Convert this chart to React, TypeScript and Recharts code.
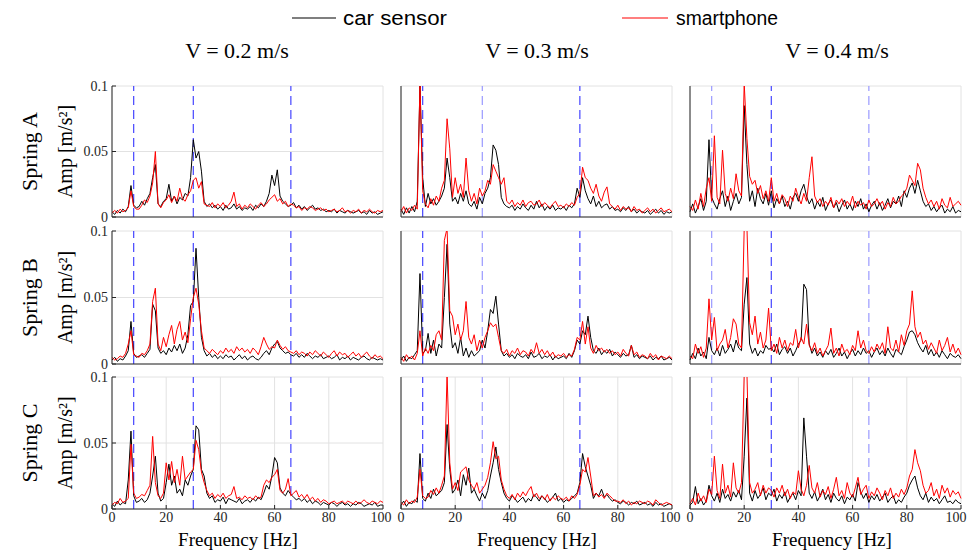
import { CartesianGrid, Line, LineChart, ReferenceLine, XAxis, YAxis } from "recharts";

// frequency bins, 1 Hz steps from 0 to 100 Hz
const FREQ = Array.from({ length: 101 }, (_, i) => i);

// Spring A
const CAR_A_02 = [
  .004, .002, .005, .003, .006, .004, .008, .024, .009, .007,
  .008, .012, .009, .014, .018, .030, .040, .010, .008, .012,
  .014, .025, .012, .016, .010, .015, .013, .018, .016, .030,
  .059, .045, .050, .035, .012, .008, .010, .007, .009, .006,
  .008, .005, .009, .006, .007, .010, .006, .008, .005, .007,
  .006, .008, .005, .009, .007, .010, .008, .012, .018, .032,
  .024, .036, .016, .012, .010, .008, .009, .011, .007, .009,
  .006, .008, .005, .007, .009, .006, .007, .005, .006, .004,
  .005, .004, .006, .003, .005, .004, .003, .005, .004, .003,
  .004, .005, .003, .004, .002, .005, .003, .004, .002, .003,
  .004,
];
const PHONE_A_02 = [
  .003, .005, .003, .006, .004, .005, .007, .020, .008, .006,
  .006, .009, .013, .011, .016, .026, .050, .010, .007, .011,
  .013, .017, .011, .016, .012, .022, .014, .012, .017, .020,
  .028, .030, .022, .027, .010, .009, .008, .011, .007, .010,
  .008, .011, .007, .009, .012, .019, .008, .010, .006, .009,
  .007, .010, .008, .006, .009, .011, .008, .010, .013, .015,
  .017, .012, .014, .010, .012, .008, .010, .009, .007, .008,
  .005, .007, .006, .008, .007, .005, .006, .007, .005, .006,
  .004, .005, .006, .004, .005, .007, .004, .005, .003, .005,
  .004, .006, .003, .005, .004, .006, .004, .003, .005, .004,
  .005,
];
const CAR_A_03 = [
  .006, .002, .007, .003, .008, .004, .012, .100, .030, .008,
  .018, .010, .014, .009, .012, .016, .022, .045, .030, .012,
  .015, .010, .018, .012, .020, .010, .008, .012, .006, .015,
  .010, .018, .022, .030, .055, .051, .040, .015, .010, .008,
  .007, .009, .005, .008, .006, .010, .007, .005, .009, .006,
  .012, .007, .010, .005, .008, .006, .009, .005, .007, .006,
  .008, .005, .009, .007, .010, .022, .015, .030, .020, .014,
  .010, .016, .008, .012, .007, .009, .010, .006, .008, .005,
  .006, .004, .007, .005, .008, .004, .006, .003, .005, .004,
  .003, .005, .002, .004, .006, .003, .005, .002, .004, .003,
  .004,
];
const PHONE_A_03 = [
  .004, .008, .003, .007, .005, .009, .006, .102, .020, .010,
  .007, .014, .009, .016, .012, .022, .028, .075, .052, .015,
  .030, .018, .025, .015, .045, .020, .012, .018, .010, .022,
  .016, .020, .028, .025, .040, .035, .030, .025, .030, .012,
  .010, .013, .008, .011, .009, .013, .008, .011, .012, .009,
  .010, .013, .008, .011, .009, .007, .010, .012, .008, .009,
  .007, .010, .008, .011, .009, .015, .018, .038, .030, .028,
  .022, .018, .025, .016, .012, .019, .023, .010, .008, .006,
  .009, .005, .008, .006, .007, .004, .008, .005, .006, .003,
  .005, .007, .004, .006, .003, .005, .007, .004, .005, .006,
  .004,
];
const CAR_A_04 = [
  .004, .010, .003, .008, .014, .005, .012, .059, .015, .010,
  .006, .014, .020, .008, .016, .005, .012, .018, .010, .015,
  .085, .040, .012, .020, .008, .022, .014, .010, .018, .009,
  .020, .007, .014, .010, .016, .008, .012, .006, .015, .018,
  .012, .020, .025, .016, .010, .014, .006, .012, .008, .015,
  .005, .010, .013, .007, .011, .004, .009, .013, .006, .010,
  .005, .012, .008, .014, .006, .010, .004, .009, .012, .006,
  .011, .005, .009, .014, .007, .012, .010, .016, .008, .020,
  .015, .022, .026, .018, .028, .020, .012, .008, .010, .005,
  .008, .004, .007, .009, .003, .006, .004, .008, .003, .005,
  .004,
];
const PHONE_A_04 = [
  .008, .005, .013, .006, .018, .008, .022, .030, .012, .062,
  .015, .010, .051, .018, .012, .022, .014, .033, .020, .016,
  .102, .060, .031, .025, .028, .018, .024, .014, .020, .012,
  .030, .012, .018, .010, .017, .014, .008, .016, .012, .022,
  .015, .010, .018, .012, .030, .046, .016, .011, .014, .008,
  .012, .009, .015, .007, .013, .010, .014, .008, .012, .009,
  .016, .007, .012, .009, .011, .006, .013, .008, .010, .014,
  .009, .012, .006, .011, .008, .015, .010, .012, .016, .018,
  .022, .032, .028, .024, .041, .036, .022, .015, .010, .013,
  .008, .012, .006, .014, .009, .007, .015, .008, .010, .012,
  .009,
];

// Spring B
const CAR_B_02 = [
  .003, .005, .002, .004, .003, .006, .010, .032, .008, .005,
  .006, .007, .005, .008, .011, .045, .040, .012, .008, .010,
  .007, .012, .009, .014, .010, .015, .008, .012, .022, .044,
  .047, .087, .050, .020, .010, .006, .008, .005, .007, .004,
  .006, .004, .007, .005, .006, .003, .005, .007, .004, .006,
  .003, .005, .006, .004, .003, .005, .008, .010, .007, .012,
  .015, .017, .012, .010, .008, .009, .007, .006, .008, .005,
  .007, .005, .008, .006, .004, .006, .005, .007, .004, .005,
  .006, .004, .005, .007, .003, .005, .004, .006, .003, .005,
  .004, .003, .005, .006, .004, .003, .005, .004, .003, .004,
  .003,
];
const PHONE_B_02 = [
  .005, .003, .004, .006, .005, .008, .015, .025, .007, .006,
  .005, .008, .007, .010, .015, .047, .057, .015, .010, .020,
  .013, .022, .029, .015, .026, .032, .018, .024, .016, .034,
  .050, .057, .045, .025, .012, .010, .008, .011, .009, .007,
  .010, .008, .012, .009, .011, .008, .013, .010, .012, .009,
  .011, .008, .012, .010, .007, .013, .020, .015, .011, .013,
  .012, .018, .014, .011, .013, .010, .009, .008, .010, .007,
  .009, .008, .006, .009, .007, .010, .008, .006, .009, .007,
  .005, .008, .010, .006, .009, .007, .008, .005, .007, .009,
  .006, .008, .005, .007, .009, .006, .004, .007, .005, .006,
  .004,
];
const CAR_B_03 = [
  .003, .006, .002, .005, .004, .007, .010, .068, .008, .010,
  .023, .008, .018, .006, .015, .012, .050, .090, .030, .012,
  .016, .008, .020, .006, .012, .005, .010, .006, .008, .010,
  .018, .012, .025, .041, .038, .051, .030, .010, .006, .008,
  .005, .007, .004, .008, .006, .005, .007, .004, .009, .005,
  .006, .008, .004, .006, .005, .007, .003, .006, .004, .005,
  .006, .004, .008, .005, .010, .018, .015, .025, .022, .036,
  .020, .010, .008, .012, .007, .010, .008, .011, .006, .009,
  .007, .005, .008, .006, .007, .014, .005, .007, .004, .006,
  .005, .004, .006, .003, .005, .004, .006, .003, .004, .005,
  .003,
];
const PHONE_B_03 = [
  .005, .002, .007, .004, .006, .003, .008, .025, .006, .012,
  .008, .014, .010, .022, .025, .018, .093, .102, .040, .036,
  .022, .030, .018, .025, .047, .020, .015, .022, .010, .018,
  .012, .020, .025, .031, .028, .030, .020, .010, .008, .011,
  .006, .010, .008, .012, .007, .010, .009, .006, .011, .008,
  .016, .008, .011, .007, .010, .006, .009, .005, .007, .006,
  .008, .005, .007, .006, .011, .020, .018, .032, .015, .028,
  .012, .008, .014, .010, .012, .009, .011, .008, .010, .007,
  .009, .006, .011, .008, .006, .014, .007, .009, .005, .007,
  .006, .004, .008, .005, .007, .003, .006, .005, .004, .006,
  .004,
];
const CAR_B_04 = [
  .003, .008, .004, .012, .006, .009, .004, .020, .010, .007,
  .012, .006, .014, .008, .011, .015, .009, .018, .012, .010,
  .045, .065, .015, .008, .012, .006, .010, .008, .014, .011,
  .012, .009, .015, .007, .011, .013, .008, .012, .006, .010,
  .015, .018, .060, .056, .015, .008, .012, .006, .009, .005,
  .010, .007, .011, .005, .008, .012, .006, .009, .004, .008,
  .011, .006, .010, .007, .012, .008, .010, .005, .009, .012,
  .007, .010, .006, .012, .008, .005, .011, .009, .007, .013,
  .018, .024, .025, .022, .016, .012, .009, .014, .007, .011,
  .006, .009, .005, .010, .007, .004, .008, .006, .005, .007,
  .004,
];
const PHONE_B_04 = [
  .006, .004, .015, .008, .013, .005, .012, .049, .018, .035,
  .010, .015, .018, .026, .012, .020, .034, .030, .015, .012,
  .102, .104, .031, .022, .036, .015, .024, .012, .018, .042,
  .010, .015, .008, .020, .012, .018, .010, .016, .014, .026,
  .012, .020, .015, .030, .014, .010, .016, .008, .012, .006,
  .010, .014, .027, .008, .012, .006, .015, .009, .011, .007,
  .014, .010, .025, .012, .018, .010, .008, .013, .009, .015,
  .011, .016, .008, .028, .012, .010, .018, .009, .022, .014,
  .025, .030, .055, .028, .020, .024, .015, .018, .011, .016,
  .012, .008, .018, .010, .014, .020, .009, .015, .008, .012,
  .007,
];

// Spring C
const CAR_C_02 = [
  .004, .002, .006, .003, .005, .004, .022, .059, .010, .005,
  .006, .008, .005, .007, .012, .025, .040, .012, .006, .008,
  .020, .034, .018, .025, .012, .015, .010, .022, .018, .025,
  .030, .063, .060, .030, .025, .012, .008, .010, .005, .007,
  .006, .009, .004, .008, .007, .006, .005, .008, .004, .006,
  .007, .005, .008, .006, .009, .007, .012, .018, .015, .025,
  .039, .035, .016, .012, .010, .014, .011, .009, .007, .008,
  .006, .008, .005, .007, .004, .006, .005, .003, .005, .004,
  .003, .005, .004, .002, .004, .005, .003, .004, .002, .004,
  .003, .005, .004, .002, .003, .004, .003, .005, .002, .003,
  .003,
];
const PHONE_C_02 = [
  .003, .005, .004, .008, .005, .006, .008, .049, .012, .008,
  .009, .011, .010, .014, .018, .055, .020, .010, .008, .012,
  .035, .022, .036, .020, .030, .018, .040, .022, .025, .028,
  .030, .052, .045, .028, .020, .014, .010, .012, .008, .011,
  .009, .012, .008, .010, .011, .017, .008, .009, .007, .010,
  .008, .009, .007, .010, .008, .009, .018, .022, .020, .024,
  .026, .030, .014, .012, .015, .023, .010, .012, .014, .009,
  .011, .008, .011, .007, .009, .006, .008, .005, .007, .006,
  .004, .005, .006, .004, .005, .006, .004, .006, .005, .004,
  .006, .004, .005, .007, .005, .004, .006, .005, .004, .006,
  .005,
];
const CAR_C_03 = [
  .003, .006, .002, .005, .004, .007, .005, .042, .008, .006,
  .012, .008, .015, .010, .012, .014, .020, .064, .030, .012,
  .015, .022, .010, .026, .018, .031, .012, .015, .010, .006,
  .012, .008, .014, .025, .035, .047, .030, .020, .012, .008,
  .006, .010, .008, .005, .007, .009, .005, .008, .006, .011,
  .009, .006, .010, .008, .005, .007, .009, .012, .006, .008,
  .005, .007, .006, .008, .010, .012, .020, .042, .032, .025,
  .018, .008, .012, .010, .015, .009, .011, .008, .006, .007,
  .005, .004, .006, .005, .003, .005, .004, .006, .003, .004,
  .005, .003, .004, .002, .005, .003, .004, .002, .003, .004,
  .003,
];
const PHONE_C_03 = [
  .005, .003, .007, .004, .006, .005, .009, .030, .010, .008,
  .009, .014, .011, .016, .012, .018, .025, .102, .035, .015,
  .020, .014, .028, .030, .032, .022, .018, .015, .020, .012,
  .015, .018, .024, .035, .051, .038, .040, .022, .015, .010,
  .008, .011, .007, .012, .009, .013, .010, .014, .017, .009,
  .012, .008, .010, .007, .011, .006, .009, .007, .010, .008,
  .007, .009, .006, .010, .008, .011, .018, .030, .028, .039,
  .025, .010, .012, .009, .011, .008, .012, .010, .008, .006,
  .006, .005, .007, .004, .006, .003, .005, .004, .006, .005,
  .004, .006, .005, .003, .007, .005, .003, .004, .005, .004,
  .003,
];
const CAR_C_04 = [
  .003, .005, .017, .004, .008, .003, .006, .018, .010, .006,
  .012, .005, .015, .008, .011, .006, .013, .009, .014, .007,
  .040, .084, .012, .006, .014, .008, .011, .016, .007, .012,
  .010, .015, .006, .011, .008, .013, .005, .009, .012, .007,
  .014, .010, .069, .040, .012, .008, .013, .006, .010, .015,
  .007, .011, .005, .012, .008, .006, .010, .004, .009, .007,
  .011, .006, .020, .013, .008, .012, .005, .010, .007, .011,
  .006, .009, .012, .005, .008, .010, .004, .007, .005, .009,
  .012, .018, .022, .025, .016, .010, .007, .012, .005, .009,
  .006, .008, .004, .007, .010, .005, .006, .004, .007, .005,
  .004,
];
const PHONE_C_04 = [
  .004, .008, .003, .012, .006, .010, .005, .015, .011, .040,
  .014, .008, .034, .012, .018, .009, .035, .016, .012, .020,
  .102, .104, .020, .012, .015, .020, .010, .018, .012, .016,
  .014, .009, .016, .012, .018, .010, .015, .008, .013, .011,
  .029, .015, .010, .018, .033, .016, .012, .020, .009, .014,
  .011, .017, .008, .015, .024, .010, .014, .008, .020, .012,
  .009, .016, .024, .011, .015, .018, .008, .013, .010, .016,
  .012, .007, .014, .010, .016, .008, .012, .009, .015, .011,
  .016, .025, .030, .045, .035, .029, .018, .012, .014, .020,
  .010, .015, .008, .018, .012, .016, .009, .014, .011, .013,
  .008,
];

const SPEEDS = ["V = 0.2 m/s", "V = 0.3 m/s", "V = 0.4 m/s"];
const SPRINGS = ["Spring A", "Spring B", "Spring C"];
const X_TICKS = [0, 20, 40, 60, 80, 100];
const Y_TICKS = [0, 0.05, 0.1];
const MARKERS = [8, 30, 66];

// rows = springs, columns = speeds
const CAR = [
  [CAR_A_02, CAR_A_03, CAR_A_04],
  [CAR_B_02, CAR_B_03, CAR_B_04],
  [CAR_C_02, CAR_C_03, CAR_C_04],
];
const PHONE = [
  [PHONE_A_02, PHONE_A_03, PHONE_A_04],
  [PHONE_B_02, PHONE_B_03, PHONE_B_04],
  [PHONE_C_02, PHONE_C_03, PHONE_C_04],
];

const COL_LEFT = [112, 401, 690];
const COL_MID = [238, 537, 832];
const ROW_TOP = [86, 231, 377];
const ROW_H = [131, 133, 132];
const PLOT_W = 271;

const BLUE = "#4545ff";
const PALE = "#9a9aff";
const MARKER_COLORS = [
  [BLUE, BLUE, BLUE],
  [BLUE, PALE, BLUE],
  [PALE, BLUE, PALE],
];

const SERIF = "'Liberation Serif', 'Times New Roman', serif";

// tick label renderers (serif, dark grey like the original)
function XTick(props: any) {
  const { x, y, payload, lastShift } = props;
  const dx = payload.value === 100 ? lastShift : 0;
  return (
    <text x={x + dx} y={y} dy="0.71em" textAnchor="middle" fontSize={14} fontFamily={SERIF} fill="#262626">
      {payload.value}
    </text>
  );
}
function YTick(props: any) {
  const { x, y, payload } = props;
  return (
    <text x={x} y={y} dy="0.35em" textAnchor="end" fontSize={14} fontFamily={SERIF} fill="#262626">
      {payload.value}
    </text>
  );
}

function Panel({ row, col }: { row: number; col: number }) {
  const car = CAR[row][col];
  const phone = PHONE[row][col];
  const data = FREQ.map((f, i) => ({ f, car: car[i], phone: phone[i] }));
  const h = ROW_H[row];
  const lastShift = col === 2 ? -3 : 0;
  return (
    <div style={{ position: "absolute", left: COL_LEFT[col] - 40, top: ROW_TOP[row] - 10 }}>
      <LineChart width={PLOT_W + 50} height={h + 32} data={data} margin={{ top: 10, right: 10, bottom: 0, left: 0 }}>
        <CartesianGrid stroke="#e2e2e2" />
        <XAxis
          dataKey="f"
          type="number"
          domain={[0, 100]}
          ticks={X_TICKS}
          height={22}
          tickSize={-4}
          tickMargin={7}
          tick={row === 2 ? (p: any) => <XTick {...p} lastShift={lastShift} /> : false}
          stroke="#262626"
        />
        <XAxis xAxisId="top" orientation="top" type="number" domain={[0, 100]} ticks={X_TICKS} height={0} tickSize={-4} tick={false} stroke="#262626" />
        <YAxis
          type="number"
          domain={[0, 0.1]}
          ticks={Y_TICKS}
          width={40}
          tickSize={-4}
          tickMargin={8}
          tick={col === 0 ? (p: any) => <YTick {...p} /> : false}
          stroke="#262626"
          allowDataOverflow
        />
        <YAxis yAxisId="right" orientation="right" type="number" domain={[0, 0.1]} ticks={Y_TICKS} width={0} tickSize={-4} tick={false} stroke="#262626" />
        {MARKERS.map((m, k) => (
          <ReferenceLine key={m} x={m} stroke={MARKER_COLORS[col][k]} strokeDasharray="9 5" strokeWidth={1.2} />
        ))}
        <Line dataKey="car" stroke="#000000" strokeWidth={1} dot={false} isAnimationActive={false} />
        <Line dataKey="phone" stroke="#ff0000" strokeWidth={1} dot={false} isAnimationActive={false} />
      </LineChart>
    </div>
  );
}

export default function App() {
  return (
    <div style={{ position: "absolute", left: 0, top: 0, width: 969, height: 554, background: "#fff", overflow: "hidden" }}>
      <svg width={969} height={554} style={{ position: "absolute", left: 0, top: 0 }}>
        <line x1={292} y1={18} x2={336} y2={18} stroke="#000" strokeWidth={1.2} />
        <text x={343} y={25} fontFamily="'Liberation Sans', Arial, sans-serif" fontSize={20} textLength={104} lengthAdjust="spacingAndGlyphs" fill="#000">car sensor</text>
        <line x1={622} y1={18} x2={668} y2={18} stroke="#ff0000" strokeWidth={1.2} />
        <text x={676} y={25} fontFamily="'Liberation Sans', Arial, sans-serif" fontSize={20} textLength={102} lengthAdjust="spacingAndGlyphs" fill="#000">smartphone</text>
        {SPEEDS.map((s, c) => (
          <text key={s} x={[237, 537, 837][c]} y={58} textAnchor="middle" fontFamily={SERIF} fontSize={22} fill="#000">{s}</text>
        ))}
        {SPRINGS.map((s, r) => {
          const cy = ROW_TOP[r] + ROW_H[r] / 2;
          return (
            <g key={s}>
              <text x={0} y={0} transform={`translate(29, ${cy}) rotate(-90)`} textAnchor="middle" dominantBaseline="central" fontFamily={SERIF} fontSize={22} fill="#000">{s}</text>
              <text x={0} y={0} transform={`translate(65, ${cy}) rotate(-90)`} textAnchor="middle" dominantBaseline="central" fontFamily={SERIF} fontSize={20} fill="#000">Amp [m/s²]</text>
            </g>
          );
        })}
        {COL_MID.map((x, c) => (
          <text key={c} x={x} y={546} textAnchor="middle" fontFamily={SERIF} fontSize={19} fill="#000">Frequency [Hz]</text>
        ))}
      </svg>
      {[0, 1, 2].map((r) => [0, 1, 2].map((c) => <Panel key={`${r}-${c}`} row={r} col={c} />))}
    </div>
  );
}
